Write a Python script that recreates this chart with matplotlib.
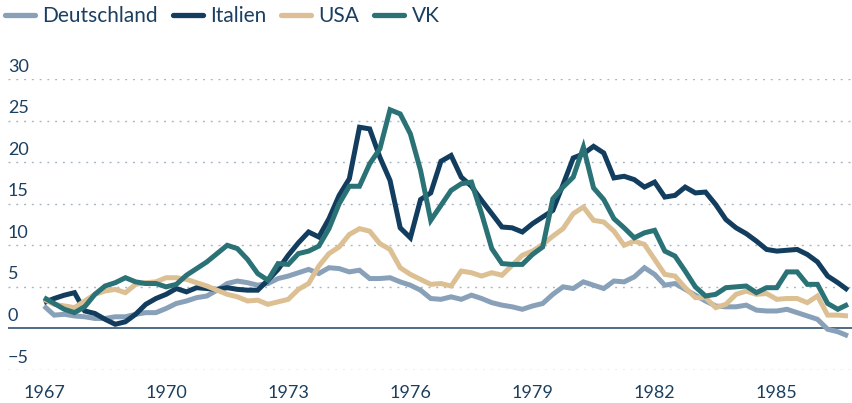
import numpy as np
import matplotlib
matplotlib.use("Agg")
import matplotlib.pyplot as plt
from matplotlib import font_manager

# quarterly inflation rates in %, 1967 Q1 to 1986 Q4
quarters = np.arange(1967, 1987, 0.25)

deutschland = [2.7, 1.6, 1.7, 1.5, 1.4, 1.2, 1.2, 1.4, 1.4, 1.7, 1.9, 1.9, 2.4, 3.0, 3.3, 3.7,
               3.9, 4.6, 5.4, 5.7, 5.5, 5.2, 5.4, 6.0, 6.3, 6.7, 7.1, 6.6, 7.3, 7.2, 6.8, 7.0,
               6.0, 6.0, 6.1, 5.6, 5.2, 4.6, 3.6, 3.5, 3.8, 3.5, 4.0, 3.6, 3.1, 2.8, 2.6, 2.3,
               2.7, 3.0, 4.1, 5.0, 4.8, 5.6, 5.2, 4.8, 5.7, 5.6, 6.2, 7.3, 6.5, 5.2, 5.4, 4.7,
               4.0, 3.3, 2.7, 2.6, 2.6, 2.8, 2.2, 2.1, 2.1, 2.3, 1.9, 1.5, 1.1, -0.1, -0.4, -0.9]
italien = [3.1, 3.6, 4.0, 4.3, 2.1, 1.8, 1.1, 0.5, 0.8, 1.7, 2.9, 3.6, 4.1, 4.8, 4.4, 4.9,
           4.8, 4.7, 4.9, 4.7, 4.6, 4.6, 5.8, 7.1, 8.8, 10.3, 11.6, 11.0, 13.2, 16.0, 18.0, 24.2,
           24.0, 20.6, 17.8, 12.1, 10.9, 15.5, 16.3, 20.1, 20.8, 18.2, 17.1, 15.4, 13.8, 12.2, 12.1, 11.6,
           12.6, 13.4, 14.2, 17.3, 20.5, 21.0, 21.9, 21.1, 18.1, 18.3, 17.9, 17.0, 17.6, 15.8, 16.0, 17.0,
           16.3, 16.4, 14.9, 13.1, 12.1, 11.4, 10.5, 9.5, 9.3, 9.4, 9.5, 8.9, 8.0, 6.3, 5.5, 4.6]
usa = [3.5, 2.9, 2.7, 2.5, 3.3, 4.1, 4.5, 4.7, 4.3, 5.3, 5.5, 5.6, 6.1, 6.1, 5.9, 5.5,
       5.1, 4.6, 4.1, 3.8, 3.3, 3.4, 2.9, 3.2, 3.5, 4.7, 5.4, 7.5, 9.0, 9.8, 11.3, 12.0,
       11.7, 10.2, 9.5, 7.3, 6.5, 5.9, 5.3, 5.4, 5.1, 6.9, 6.7, 6.3, 6.7, 6.4, 7.6, 8.8,
       9.3, 10.1, 11.1, 12.0, 13.8, 14.6, 13.0, 12.8, 11.7, 10.0, 10.5, 10.1, 8.3, 6.5, 6.3, 4.9,
       3.7, 3.7, 2.5, 2.9, 4.1, 4.5, 4.1, 4.2, 3.5, 3.6, 3.6, 3.1, 3.9, 1.6, 1.6, 1.5]
vk = [3.7, 3.0, 2.3, 1.9, 2.6, 4.1, 5.1, 5.5, 6.1, 5.6, 5.4, 5.4, 5.0, 5.3, 6.4, 7.2,
      8.0, 9.0, 10.0, 9.6, 8.3, 6.6, 5.8, 7.8, 7.7, 9.0, 9.3, 9.9, 12.0, 15.0, 17.1, 17.1,
      19.8, 21.6, 26.3, 25.8, 23.4, 19.0, 13.0, 14.8, 16.6, 17.4, 17.6, 13.8, 9.6, 7.8, 7.7, 7.7,
      8.9, 9.8, 15.6, 17.0, 18.2, 21.8, 16.9, 15.5, 13.2, 12.1, 10.9, 11.5, 11.8, 9.3, 8.7, 6.9,
      5.0, 3.9, 4.1, 4.9, 5.0, 5.1, 4.3, 4.9, 4.9, 6.8, 6.8, 5.3, 5.3, 3.0, 2.3, 2.9]

series = ["Deutschland", "Italien", "USA", "VK"]
colors = ["#89a1b8", "#123d5e", "#dcc094", "#2a7275"]
yticks = [-5, 0, 5, 10, 15, 20, 25, 30]
xticks = [1967, 1970, 1973, 1976, 1979, 1982, 1985]

text_color = "#1b3f60"
grid_color = "#a6b5c5"

installed = {f.name for f in font_manager.fontManager.ttflist}
narrow = "Liberation Sans Narrow" if "Liberation Sans Narrow" in installed else "Lato"
plt.rcParams["font.family"] = ["Lato", "DejaVu Sans"]

fig = plt.figure(figsize=(8.52, 4.03), dpi=100)
ax = fig.add_axes([8 / 852, 1 - 370 / 403, 844 / 852, 291 / 403])
ax.set_xlim(1966.116, 1986.848)
ax.set_ylim(-5, 30)
ax.axis("off")

for v in yticks:
    if v == 0:
        ax.axhline(0, color="#1d4466", lw=1.1, zorder=1)
    else:
        ax.axhline(v, color=grid_color, lw=1.0, dashes=(1.4, 4.2), zorder=0)
    ax.text(0, v + 1.5, f"{v}".replace("-", "\u2212"), transform=ax.get_yaxis_transform(),
            ha="left", va="center", fontsize=13, color=text_color)

for yr in xticks:
    ax.text(yr, -7.75, str(yr), ha="center", va="center", fontsize=13,
            color=text_color, family=[narrow, "DejaVu Sans"], clip_on=False)

data = [deutschland, italien, usa, vk]
for name, vals, c in zip(series, data, colors):
    ax.plot(quarters, vals, color=c, lw=3.6, label=name, solid_joinstyle="miter",
            solid_capstyle="butt", zorder=3)

leg = fig.legend(loc="center left", bbox_to_anchor=(5 / 852, 1 - 16 / 403), ncol=4,
                 frameon=False, fontsize=15, handlelength=1.45, handletextpad=0.35,
                 columnspacing=0.7, borderaxespad=0, borderpad=0)
for h in leg.get_lines():
    h.set_solid_capstyle("round")
    h.set_linewidth(3.8)
for t in leg.get_texts():
    t.set_color(text_color)

fig.savefig("out.png", dpi=100)
